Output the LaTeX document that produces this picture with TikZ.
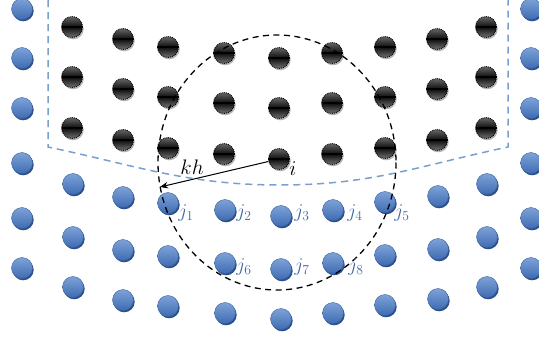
\RequirePackage{fix-cm}
\documentclass[tikz,border=0pt]{standalone}
\usetikzlibrary{arrows.meta,shadows}
\definecolor{balltop}{RGB}{125,162,216}
\definecolor{ballbot}{RGB}{62,108,178}
\definecolor{ballrim}{RGB}{60,100,160}
\definecolor{ballshadow}{RGB}{45,80,140}
\definecolor{lblblue}{RGB}{62,104,166}
\definecolor{curveblue}{RGB}{120,160,206}
\tikzset{
  blueball/.style={circle, minimum size=21pt, inner sep=0pt, draw=ballrim, line width=0.4pt,
    top color=balltop, bottom color=ballbot,
    general shadow={fill=ballshadow, shadow xshift=1.2pt, shadow yshift=-1.8pt}},
  blackball/.style={circle, minimum size=21pt, inner sep=0pt, draw=black, densely dotted, line width=0.9pt,
    top color=black!60, bottom color=black!55, middle color=black!95,
    general shadow={fill=black!30, shadow xshift=1.2pt, shadow yshift=-1.8pt},
    path picture={\draw[solid, line width=1.2pt, black] (path picture bounding box.west) -- (path picture bounding box.east);}},
  lbl/.style={inner sep=0pt, text=lblblue, font=\fontsize{19.5}{22}\selectfont},
  klbl/.style={inner sep=0pt, text=black, font=\fontsize{21}{24}\selectfont},
  boundary/.style={draw=curveblue, line width=1.5pt, dash pattern=on 7pt off 5pt},
  support/.style={draw=black, line width=1.3pt, dash pattern=on 6pt off 4.5pt},
}
\begin{document}
\begin{tikzpicture}[x=1pt,y=-1pt]
\useasboundingbox (0,0) rectangle (539,340);
% boundary curve
\coordinate (bl0) at (48,0);
\coordinate (bl1) at (48,147);
\coordinate (bm) at (280,185);
\coordinate (br1) at (508,147);
\coordinate (br0) at (508,0);
\draw[boundary] (bl0) -- (bl1) .. controls (138,166) and (188,185) .. (bm)
  .. controls (372,185) and (418,166) .. (br1) -- (br0);
% side blue particles
\foreach \y [count=\r] in {9,58,108,163,218,268} {
  \node[blueball] (L\r) at (22,\y) {};
  \node[blueball] (R\r) at (531,\y) {};
}
% black particles
\foreach \x/\y [count=\c] in {72/27,123/39,168/47,224/53,279/58,332/53,385/47,437/39,486/27} {
  \foreach \dy [count=\r] in {0,50,101} {
    \node[blackball] (k\c\r) at (\x,\y+\dy) {};
  }
}
% blue particles
\foreach \x/\y [count=\c] in {73/184,123/197,168/203,225/210,281/216,333/210,385/202,438/196,487/184} {
  \foreach \dy [count=\r] in {0,53,103} {
    \node[blueball] (b\c\r) at (\x,\y+\dy) {};
  }
}
% support domain
\coordinate (ctr) at (277,162.5);
\draw[support] (ctr) ellipse [x radius=119, y radius=127.5];
\coordinate (khend) at (160,187);
\draw[line width=1pt, -{Stealth[length=8pt,width=6.5pt]}] (k53) -- (khend);
% labels
\node[klbl] (kh) at (192,167) {$kh$};
\node[klbl] (ilbl) at (293,169) {$i$};
\node[lbl] (j1) at (186,213) {$j_1$};
\node[lbl] (j2) at (244,213) {$j_2$};
\node[lbl] (j3) at (302,213) {$j_3$};
\node[lbl] (j4) at (355,213) {$j_4$};
\node[lbl] (j5) at (402,213) {$j_5$};
\node[lbl] (j6) at (244,267) {$j_6$};
\node[lbl] (j7) at (302,267) {$j_7$};
\node[lbl] (j8) at (356,267) {$j_8$};
\end{tikzpicture}
\end{document}
